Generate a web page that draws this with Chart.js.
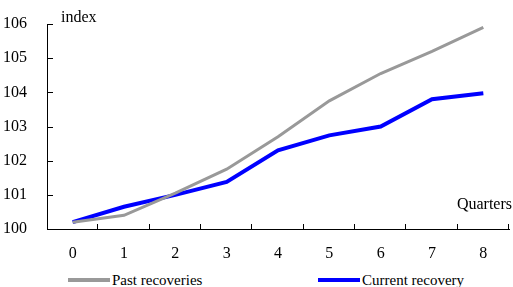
<!DOCTYPE html>
<html>
<head>
<meta charset="utf-8">
<script src="https://cdn.jsdelivr.net/npm/chart.js@4/dist/chart.umd.min.js"></script>
<style>
  html, body { margin: 0; padding: 0; background: #fff; }
  #page { width: 513px; height: 287px; position: relative; overflow: hidden; }
  #wrap { width: 513px; height: 270px; position: absolute; left: 0; top: 0; }
  .leg-item {
    position: absolute; top: 271px; height: 18px;
    display: flex; align-items: center;
    font: 15px "Liberation Serif", "Times New Roman", serif; color: #000;
    white-space: nowrap;
  }
  .leg-line { display: inline-block; width: 42px; height: 4px; margin-right: 2px; }
</style>
</head>
<body>
<div id="page">
  <div id="wrap"><canvas id="chart"></canvas></div>
  <div id="legend"></div>
</div>
<script>
// ---------- datos ----------
const quarters = ['0', '1', '2', '3', '4', '5', '6', '7', '8'];
const pastRecoveries = [100.2, 100.4, 101.05, 101.75, 102.7, 103.75, 104.55, 105.2, 105.9];
const currentRecovery = [100.2, 100.65, 101.0, 101.38, 102.3, 102.74, 103.0, 103.8, 103.97];
const yTicks = [100, 101, 102, 103, 104, 105, 106];

const FONT = '"Liberation Serif", "Times New Roman", serif';

// ticks hacia adentro + etiquetas "index" / "Quarters"
const axisDecor = {
  id: 'axisDecor',
  afterDraw(chart) {
    const { ctx, chartArea, scales } = chart;
    const x = scales.x, y = scales.y;
    ctx.save();
    ctx.strokeStyle = '#000';
    ctx.lineWidth = 1;
    ctx.beginPath();
    yTicks.forEach(v => {
      const py = Math.round(y.getPixelForValue(v)) + 0.5;
      ctx.moveTo(chartArea.left, py);
      ctx.lineTo(chartArea.left + 6, py);
    });
    const half = (x.getPixelForValue(1) - x.getPixelForValue(0)) / 2;
    quarters.forEach((q, i) => {
      const px = Math.round(x.getPixelForValue(i) + half) - 0.5;
      ctx.moveTo(px, chartArea.bottom);
      ctx.lineTo(px, chartArea.bottom - 5);
    });
    ctx.stroke();

    ctx.fillStyle = '#000';
    ctx.font = '16px ' + FONT;
    ctx.textBaseline = 'middle';
    ctx.textAlign = 'left';
    ctx.fillText('index', chartArea.left + 14, chartArea.top - 6);
    ctx.textAlign = 'right';
    ctx.fillText('Quarters', chartArea.right + 3, chartArea.bottom - 24);
    ctx.restore();
  }
};

const chart = new Chart(document.getElementById('chart'), {
  type: 'line',
  data: {
    labels: quarters,
    datasets: [
      {
        label: 'Past recoveries',
        data: pastRecoveries,
        borderColor: '#999999',
        backgroundColor: '#999999',
        borderWidth: 3,
        pointRadius: 0,
        tension: 0
      },
      {
        label: 'Current recovery',
        data: currentRecovery,
        borderColor: '#0000ff',
        backgroundColor: '#0000ff',
        borderWidth: 4,
        pointRadius: 0,
        tension: 0
      }
    ]
  },
  options: {
    responsive: true,
    maintainAspectRatio: false,
    animation: false,
    layout: { padding: { top: 24, right: 4, left: 0, bottom: 0 } },
    plugins: {
      legend: { display: false },
      tooltip: { enabled: false }
    },
    scales: {
      x: {
        type: 'category',
        offset: true,
        grid: { display: false, offset: true },
        border: { display: true, color: '#000', width: 1 },
        ticks: { color: '#000', padding: 7, font: { family: FONT, size: 16 }, maxRotation: 0 },
        afterFit: (s) => { s.height = 41; }
      },
      y: {
        min: 100,
        max: 106,
        grid: { display: false },
        border: { display: true, color: '#000', width: 1 },
        ticks: {
          stepSize: 1,
          color: '#000',
          padding: 12,
          font: { family: FONT, size: 16 }
        },
        afterFit: (s) => { s.width = 47; }
      }
    }
  },
  plugins: [axisDecor]
});

// leyenda HTML (posiciones como en el original)
const legendPos = [68, 318];
const legendEl = document.getElementById('legend');
chart.data.datasets.forEach((ds, i) => {
  const item = document.createElement('div');
  item.className = 'leg-item';
  item.style.left = legendPos[i] + 'px';
  const line = document.createElement('span');
  line.className = 'leg-line';
  line.style.background = ds.borderColor;
  item.appendChild(line);
  item.appendChild(document.createTextNode(ds.label));
  legendEl.appendChild(item);
});
</script>
</body>
</html>
